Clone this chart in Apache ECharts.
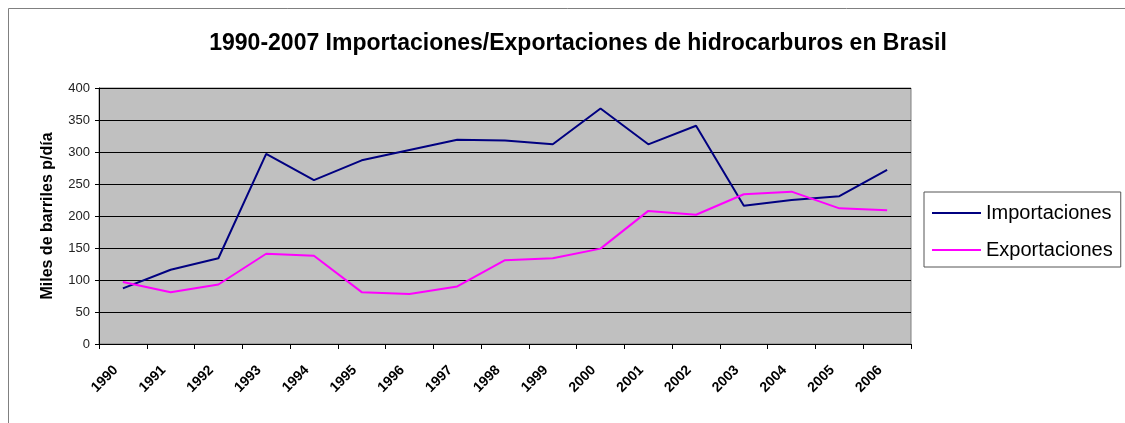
<!DOCTYPE html>
<html>
<head>
<meta charset="utf-8">
<script src="https://cdn.jsdelivr.net/npm/echarts@6/dist/echarts.min.js"></script>
<style>
html,body{margin:0;padding:0;background:#fff;}
#chart{width:1125px;height:423px;}
</style>
</head>
<body>
<div id="chart"></div>
<script>
const titleText = "1990-2007 Importaciones/Exportaciones de hidrocarburos en Brasil";
const yAxisName = "Miles de barriles p/día";
const years = ["1990","1991","1992","1993","1994","1995","1996","1997","1998","1999","2000","2001","2002","2003","2004","2005","2006"];
const importaciones = [87,116,134,297,256,287,303,319,318,312,368,312,341,216,225,231,272];
const exportaciones = [97,81,93,141,138,81,78,90,131,134,149,208,202,234,238,212,209];
const yTicks = [0,50,100,150,200,250,300,350,400];

const chart = echarts.init(document.getElementById('chart'), null, {renderer:'canvas'});
chart.setOption({
  animation:false,
  backgroundColor:'#fff',
  graphic:[{
    type:'rect', silent:true, z:-10,
    shape:{x:8.5,y:8.5,width:1200,height:500},
    style:{fill:'none',stroke:'#808080',lineWidth:1}
  }],
  title:{
    text:titleText, left:573, top:27, textAlign:'center',
    textStyle:{fontFamily:'Liberation Sans',fontWeight:'bold',fontSize:23,color:'#000'}
  },
  legend:{
    orient:'vertical', left:924, top:192,
    padding:[11,8,7,8], itemGap:17,
    icon:'rect', itemWidth:49, itemHeight:2,
    borderColor:'#555', borderWidth:1, backgroundColor:'#fff',
    textStyle:{fontFamily:'Liberation Sans',fontSize:20,color:'#000',lineHeight:20},
    data:['Importaciones','Exportaciones']
  },
  grid:{
    left:99, right:214, top:88, bottom:79,
    show:true, backgroundColor:'#C0C0C0', borderColor:'#808080', borderWidth:1
  },
  xAxis:{
    type:'category', data:years, boundaryGap:true,
    axisLine:{lineStyle:{color:'#000',width:1}},
    axisTick:{show:true,length:5,lineStyle:{color:'#000'}},
    axisLabel:{rotate:45, margin:17, padding:[0,10,0,0], fontFamily:'Liberation Sans', fontSize:14, fontWeight:'bold', color:'#000', interval:0},
    splitLine:{show:false}
  },
  yAxis:{
    type:'value', min:0, max:400, interval:50,
    name:yAxisName, nameLocation:'middle', nameGap:43, nameRotate:90,
    nameTextStyle:{fontFamily:'Liberation Sans',fontWeight:'bold',fontSize:16,color:'#000'},
    axisLine:{show:true,lineStyle:{color:'#000',width:1}},
    axisTick:{show:true,length:4,lineStyle:{color:'#000'}},
    axisLabel:{margin:9,fontFamily:'Liberation Sans',fontSize:13,color:'#222',
      formatter:function(v){return yTicks.indexOf(v)>=0?String(v):'';}},
    splitLine:{show:true,lineStyle:{color:'#000',width:1}}
  },
  series:[
    {name:'Importaciones',type:'line',data:importaciones,symbol:'none',
     lineStyle:{color:'#000080',width:2},itemStyle:{color:'#000080'}},
    {name:'Exportaciones',type:'line',data:exportaciones,symbol:'none',
     lineStyle:{color:'#FF00FF',width:2},itemStyle:{color:'#FF00FF'}}
  ]
});
</script>
</body>
</html>
